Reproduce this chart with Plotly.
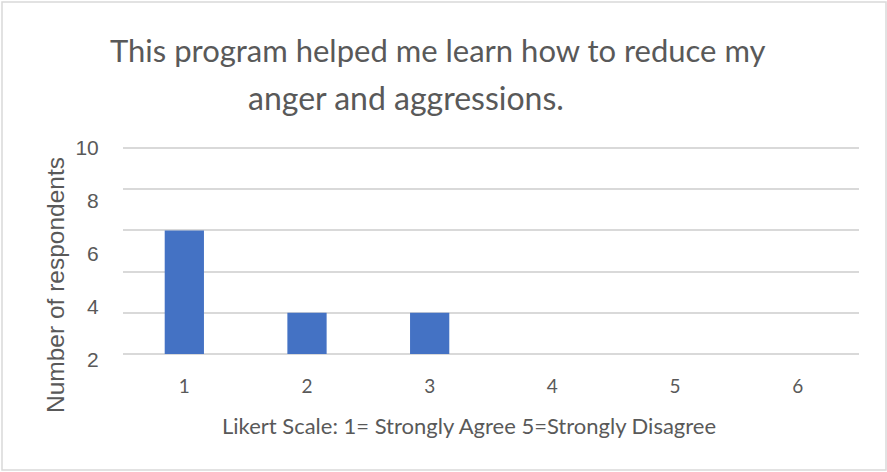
import plotly.graph_objects as go

# ---- data ----
likert_levels = ["1", "2", "3", "4", "5", "6"]
respondents = [6, 2, 2, 0, 0, 0]
label_ticks = [2, 4, 6, 8, 10]
title_line1 = "This program helped me learn how to reduce my"
title_line2 = "anger and aggressions."
x_title = "Likert Scale: 1= Strongly Agree 5=Strongly Disagree"
y_title = "Number of respondents"

W, H = 887, 472
L, R = 123, 859          # plot area x pixels
T, PB = 140, 372         # paper top / bottom pixels
GRID_BOTTOM = 354
GRID_TOP = 148
LABEL_BOTTOM = 360
LABEL_TOP = 148
PADV = 0.05              # small range pad so edge gridlines are drawn

def px(x):
    return (x - L) / (R - L)

def py(y):
    return (PB - y) / (PB - T)

grey = "#595959"
gridc = "#d9d9d9"

unit = (GRID_BOTTOM - GRID_TOP) / 10.0
lunit = (LABEL_BOTTOM - LABEL_TOP) / 8.0

fig = go.Figure()
fig.add_trace(go.Bar(
    x=likert_levels, y=respondents,
    marker=dict(color="#4472C4", line=dict(width=0)),
    width=0.32, showlegend=False, hoverinfo="skip",
))
# invisible trace to carry the label axis
fig.add_trace(go.Scatter(
    x=[likert_levels[0]], y=[None], yaxis="y2", mode="markers",
    marker=dict(opacity=0), showlegend=False, hoverinfo="skip",
))

fig.update_layout(
    width=W, height=H,
    margin=dict(l=L, r=W - R, t=T, b=H - PB, pad=0),
    paper_bgcolor="white", plot_bgcolor="rgba(0,0,0,0)",
    xaxis=dict(
        type="category", range=[-0.5, 5.5], anchor="y",
        showgrid=False, zeroline=False, showline=False,
        ticks="outside", ticklen=14, tickcolor="rgba(0,0,0,0)",
        tickfont=dict(family="Lato", size=19, color=grey),
    ),
    yaxis=dict(
        domain=[py(GRID_BOTTOM + PADV * unit), py(GRID_TOP - PADV * unit)],
        range=[-PADV, 10 + PADV], dtick=2, tick0=0,
        showgrid=True, gridcolor=gridc, gridwidth=1.5,
        zeroline=False, showline=False, showticklabels=False, ticks="",
    ),
    yaxis2=dict(
        domain=[py(LABEL_BOTTOM), py(LABEL_TOP)], range=[2, 10],
        tickvals=label_ticks, anchor="free", position=0, side="left",
        showgrid=False, zeroline=False, showline=False,
        ticks="outside", ticklen=20, tickcolor="rgba(0,0,0,0)",
        tickfont=dict(family="Liberation Sans", size=21, color=grey),
    ),
    annotations=[
        dict(text=title_line1, x=px(438), y=py(50), xref="paper", yref="paper",
             showarrow=False, xanchor="center", yanchor="middle",
             font=dict(family="Lato", size=31, color=grey)),
        dict(text=title_line2, x=px(406), y=py(97), xref="paper", yref="paper",
             showarrow=False, xanchor="center", yanchor="middle",
             font=dict(family="Lato", size=32, color=grey)),
        dict(text=x_title, x=px(469), y=py(425), xref="paper", yref="paper",
             showarrow=False, xanchor="center", yanchor="middle",
             font=dict(family="Lato", size=22, color=grey)),
        dict(text=y_title, x=px(55), y=py(285), xref="paper", yref="paper",
             showarrow=False, xanchor="center", yanchor="middle", textangle=-90,
             font=dict(family="Liberation Sans", size=24.5, color=grey)),
    ],
    shapes=[
        dict(type="rect", xref="paper", yref="paper",
             x0=px(2), x1=px(886), y0=py(470), y1=py(2),
             line=dict(color=gridc, width=1.5), fillcolor="rgba(0,0,0,0)", layer="below"),
    ],
)

fig.write_html("out.html", config={"displayModeBar": False},
               post_script="document.body.style.margin='0';")
